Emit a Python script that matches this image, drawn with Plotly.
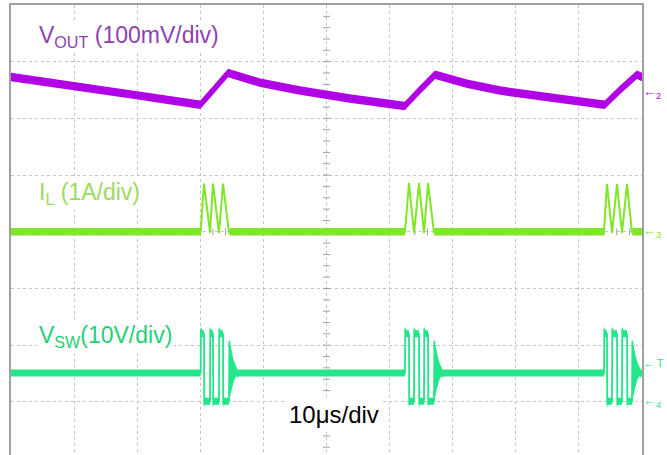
import plotly.graph_objects as go

# ---------------- scope settings ----------------
X_RANGE = [-50.0, 50.0]        # µs, 10 µs/div, 10 divisions
Y_RANGE = [-3.937, 4.0]        # divisions (bottom edge is cut off)
VOUT_SCALE = 100.0             # mV/div
IL_SCALE = 1.0                 # A/div
VSW_SCALE = 10.0               # V/div
CH2_POS = 2.45                 # ground marker positions, div
CH3_POS = 0.0
CH4_POS = -3.0
TRIG_POS = -2.31

# ---------------- channel 2 : VOUT ripple (mV relative to marker) ----------
vout_t = [-50.0, -30.7, -20.0, -17.8, -15.6, -10.5, -4.2, 3.7, 12.4, 14.8,
          17.2, 22.3, 27.5, 35.4, 44.1, 46.5, 49.2, 50.0]
vout_mv = [28, -3, -21, 7, 35, 18, 4, -10, -23, 5,
           32, 16, 4, -8, -21, 5, 32, 28]

# ---------------- channel 3 : inductor current (A) -------------------------
il_start = [-19.94, 12.44, 43.98]
il_peaks = [[-19.41, -17.99, -16.40], [13.07, 14.66, 16.09], [44.45, 46.04, 47.63]]
il_valleys = [[-18.46, -17.04], [13.87, 15.45], [45.25, 46.83]]
il_end = [-15.45, 17.04, 48.42]
il_peak_a = [0.85, 0.86, 0.84]
il_valley_a = -0.02
il_base_a = 0.0

# ---------------- channel 4 : switch node (V) -------------------------------
vsw_rise = [[-19.94, -18.46, -17.04], [12.44, 13.87, 15.45], [43.98, 45.25, 46.83]]
vsw_fall = [[-19.41, -17.99, -16.40], [13.07, 14.66, 16.09], [44.45, 46.04, 47.63]]
vsw_ring_start = [-15.45, 17.04, 48.42]
vsw_base_v = 5.1
vsw_high_v = 12.0
vsw_over_v = 12.9
vsw_low_v = 0.1
vsw_under_v = -0.5
ring_dt = [0.06, 0.12, 0.18, 0.24, 0.30, 0.36, 0.42, 0.48, 0.54, 0.60,
           0.68, 0.76, 0.84, 0.92, 1.00, 1.10, 1.20, 1.35, 1.50]
ring_v = [10.8, 1.0, 10.0, 1.6, 9.2, 2.2, 8.5, 2.8, 7.9, 3.3,
          7.3, 3.8, 6.8, 4.2, 6.3, 4.5, 5.8, 4.8, 5.1]

# ---------------- colours ----------------------------------------------------
C_VOUT = "#B000E6"
C_VOUT_TXT = "#8E3FB0"
C_IL = "#80E628"
C_IL_TXT = "#9BDB5C"
C_VSW = "#22E68A"
C_VSW_TXT = "#24D077"
GRID = "#C4C4C4"
BORDER = "#A0A0A0"
FONT = "Liberation Sans, Arial, sans-serif"

# ---------------- build polylines (divisions) ------------------------------
vout_x = list(vout_t)
vout_y = [CH2_POS + v / VOUT_SCALE for v in vout_mv]
vout_h = [0.075] * len(vout_x)

il_x, il_y, il_h = [X_RANGE[0]], [il_base_a], [0.065]
for b in range(len(il_start)):
    il_x.append(il_start[b]); il_y.append(il_base_a); il_h.append(0.065)
    seq = [(il_peaks[b][0], il_peak_a[b]), (il_valleys[b][0], il_valley_a),
           (il_peaks[b][1], il_peak_a[b]), (il_valleys[b][1], il_valley_a),
           (il_peaks[b][2], il_peak_a[b]), (il_end[b], il_valley_a)]
    for t, a in seq:
        il_x.append(t); il_y.append(a); il_h.append(0.015)
    il_x.append(il_end[b] + 0.1); il_y.append(il_base_a); il_h.append(0.065)
il_x.append(X_RANGE[1]); il_y.append(il_base_a); il_h.append(0.065)
il_y = [CH3_POS + a / IL_SCALE for a in il_y]

sw_x, sw_v = [X_RANGE[0]], [vsw_base_v]
for b in range(len(vsw_rise)):
    prev = vsw_base_v
    for i in range(len(vsw_rise[b])):
        r, f = vsw_rise[b][i], vsw_fall[b][i]
        sw_x += [r, r + 0.04, r + 0.15, f, f + 0.04, f + 0.15]
        sw_v += [prev, vsw_over_v, vsw_high_v, vsw_high_v, vsw_under_v, vsw_low_v]
        prev = vsw_low_v
    rs = vsw_ring_start[b]
    sw_x.append(rs); sw_v.append(vsw_low_v)
    for dt, v in zip(ring_dt, ring_v):
        sw_x.append(rs + dt); sw_v.append(v)
sw_x.append(X_RANGE[1]); sw_v.append(vsw_base_v)
sw_y = [CH4_POS + v / VSW_SCALE for v in sw_v]
sw_h = [0.062] * len(sw_x)

fig = go.Figure()

# minor ticks on the centre cross
tick_x = [X_RANGE[0] + 2 * k for k in range(51)]
tick_y = [round(-3.8 + 0.2 * k, 2) for k in range(39)]
fig.add_trace(go.Scatter(x=tick_x, y=[0] * len(tick_x), mode="markers",
                         marker=dict(symbol="line-ns", size=5, line=dict(width=1, color="#A0A0A0")),
                         hoverinfo="skip", showlegend=False))
fig.add_trace(go.Scatter(x=[0] * len(tick_y), y=tick_y, mode="markers",
                         marker=dict(symbol="line-ew", size=5, line=dict(width=1, color="#A0A0A0")),
                         hoverinfo="skip", showlegend=False))


def add_trace(xs, ys, hs, color, name, lw):
    upper = [y + h for y, h in zip(ys, hs)]
    lower = [y - h for y, h in zip(ys, hs)]
    fig.add_trace(go.Scatter(x=xs + xs[::-1], y=upper + lower[::-1], fill="toself",
                             fillcolor=color, line=dict(width=0, color=color), mode="lines",
                             hoverinfo="skip", showlegend=False, name=name + " band"))
    fig.add_trace(go.Scatter(x=xs, y=ys, mode="lines", line=dict(width=lw, color=color),
                             showlegend=False, name=name))


add_trace(vout_x, vout_y, vout_h, C_VOUT, "VOUT", 1.6)
add_trace(il_x, il_y, il_h, C_IL, "IL", 2.0)
add_trace(sw_x, sw_y, sw_h, C_VSW, "VSW", 1.8)

annotations = [
    dict(x=-45.9, y=3.44, text="V<sub>OUT</sub> (100mV/div)", xanchor="left", yanchor="middle",
         font=dict(size=23, color=C_VOUT_TXT, family=FONT), bgcolor="white"),
    dict(x=-45.9, y=0.68, text="I<sub>L</sub> (1A/div)", xanchor="left", yanchor="middle",
         font=dict(size=23, color=C_IL_TXT, family=FONT), bgcolor="white"),
    dict(x=-45.9, y=-1.84, text="V<sub>SW</sub>(10V/div)", xanchor="left", yanchor="middle",
         font=dict(size=23, color=C_VSW_TXT, family=FONT), bgcolor="white"),
    dict(x=1.2, y=-3.22, text="10μs/div", xanchor="center", yanchor="middle",
         font=dict(size=24, color="black", family=FONT), bgcolor="white", borderpad=3),
]
markers = [(CH2_POS, "←<sub>2</sub>", C_VOUT, 13), (CH3_POS, "←<sub>3</sub>", C_IL, 13),
           (TRIG_POS, "← T", C_VSW, 11), (CH4_POS, "←<sub>4</sub>", C_VSW, 13)]
for y, txt, col, fs in markers:
    annotations.append(dict(x=1.0, xref="paper", y=y, yref="y", text=txt, xanchor="left",
                            yanchor="middle", xshift=0, showarrow=False, borderpad=0,
                            font=dict(size=fs, color=col, family=FONT)))
for a in annotations:
    a.setdefault("showarrow", False)

fig.update_layout(
    width=667, height=455,
    margin=dict(l=11, r=25, t=5, b=0),
    paper_bgcolor="white", plot_bgcolor="white",
    annotations=annotations,
    xaxis=dict(range=X_RANGE, dtick=10, tick0=-50, showgrid=True, gridcolor=GRID,
               griddash="dot", gridwidth=1, showticklabels=False, ticks="",
               zeroline=False, showline=True, linecolor=BORDER, linewidth=1.5,
               side="top", mirror=False, fixedrange=True),
    yaxis=dict(range=Y_RANGE, dtick=1, tick0=0, showgrid=True, gridcolor=GRID,
               griddash="dot", gridwidth=1, showticklabels=False, ticks="",
               zeroline=False, showline=True, linecolor=BORDER, linewidth=1.5,
               mirror=True, fixedrange=True),
)

fig.write_html("out.html", config={"displayModeBar": False},
               post_script="document.body.style.margin='0';document.body.style.overflow='hidden';")
